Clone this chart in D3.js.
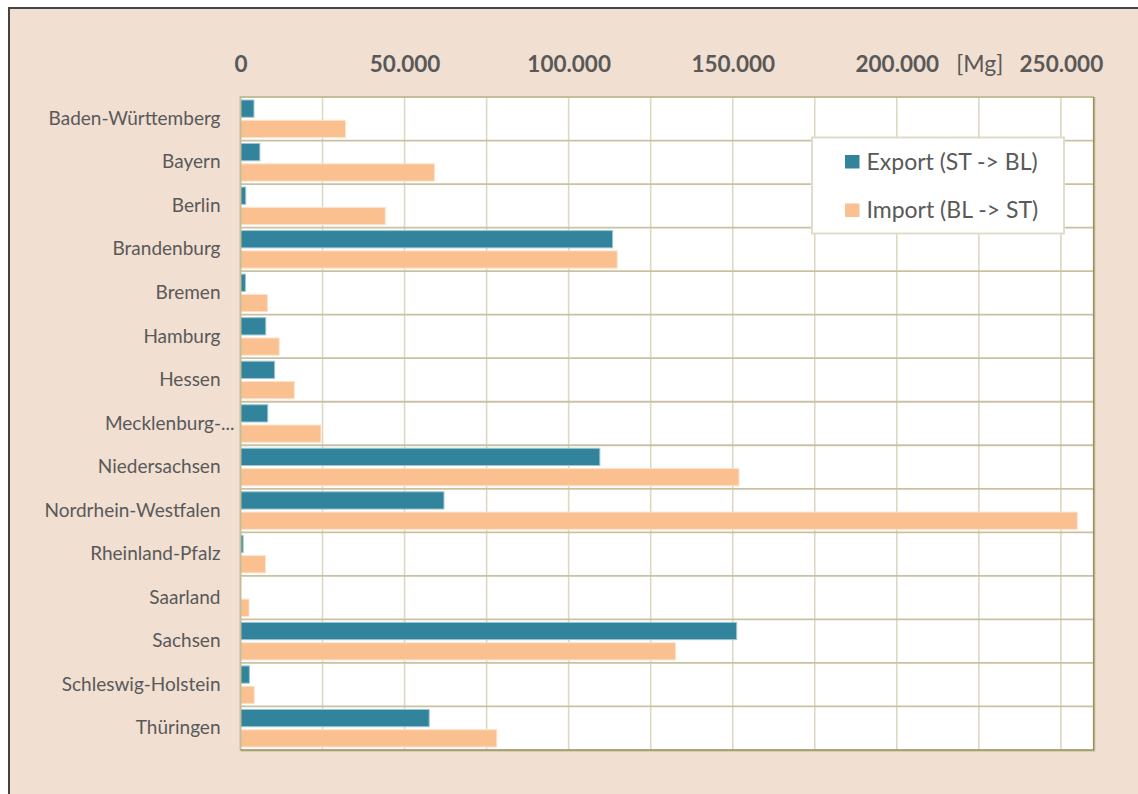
<!DOCTYPE html>
<html>
<head>
<meta charset="utf-8">
<script src="https://cdn.jsdelivr.net/npm/d3@7"></script>
<style>
  html, body { margin: 0; padding: 0; background: #ffffff; }
  svg { display: block; }
  text { font-family: Lato, "Open Sans", sans-serif; fill: #595959; }
</style>
</head>
<body>
<svg id="chart" width="1138" height="794"></svg>
<script>
// Abfallströme zwischen Sachsen-Anhalt (ST) und den Bundesländern (BL), in Mg
const categories = [
  "Baden-Württemberg", "Bayern", "Berlin", "Brandenburg", "Bremen", "Hamburg",
  "Hessen", "Mecklenburg-Vorpommern", "Niedersachsen", "Nordrhein-Westfalen",
  "Rheinland-Pfalz", "Saarland", "Sachsen", "Schleswig-Holstein", "Thüringen"
];
const exportValues = [
  4100, 5900, 1600, 113400, 1500, 7700,
  10400, 8300, 109500, 62000,
  800, 0, 151200, 2700, 57500
];
const importValues = [
  32000, 59100, 44100, 114800, 8200, 11800,
  16400, 24500, 151900, 255000,
  7600, 2600, 132600, 4200, 78100
];
const seriesNames = ["Export (ST -> BL)", "Import (BL -> ST)"];
const tickValues = [0, 50000, 100000, 150000, 200000, 250000];
const gridValues = [25000, 50000, 75000, 100000, 125000, 150000, 175000, 200000, 225000, 250000];
const unitLabel = "[Mg]";
const unitPosition = 225000;
const xMax = 260000;

const colors = { "Export (ST -> BL)": "#31849b", "Import (BL -> ST)": "#fac090" };

const de = d3.formatLocale({ decimal: ",", thousands: ".", grouping: [3], currency: ["", " €"] });
const fmt = de.format(",d");

const svg = d3.select("#chart");

// chart frame
svg.append("rect")
  .attr("x", 9).attr("y", 8).attr("width", 1140).attr("height", 800)
  .attr("fill", "#f1dfd2").attr("stroke", "#444444").attr("stroke-width", 2);

const plot = { left: 240.5, right: 1093.7, top: 97, bottom: 750 };

const x = d3.scaleLinear().domain([0, xMax]).range([plot.left, plot.right]);
const y = d3.scaleBand().domain(categories).range([plot.top, plot.bottom]).paddingInner(0).paddingOuter(0);
const bandH = y.bandwidth();
const inner = d3.scaleBand().domain(seriesNames).range([3, bandH - 3]).paddingInner(0.15).paddingOuter(0);

// plot background
svg.append("rect")
  .attr("x", plot.left).attr("y", plot.top)
  .attr("width", plot.right - plot.left).attr("height", plot.bottom - plot.top)
  .attr("fill", "#ffffff");

// vertical gridlines
svg.append("g").selectAll("line").data(gridValues).join("line")
  .attr("x1", d => x(d)).attr("x2", d => x(d))
  .attr("y1", plot.top).attr("y2", plot.bottom)
  .attr("stroke", "#ddd8c2").attr("stroke-width", 1.6);

// horizontal category separators
svg.append("g").selectAll("line").data(categories.slice(1)).join("line")
  .attr("x1", plot.left).attr("x2", plot.right)
  .attr("y1", d => y(d)).attr("y2", d => y(d))
  .attr("stroke", "#c9c2a2").attr("stroke-width", 1.8);

// bars
const rows = categories.map((c, i) => ({ cat: c, vals: [
  { s: seriesNames[0], v: exportValues[i] },
  { s: seriesNames[1], v: importValues[i] }
]}));

const barStroke = { "Export (ST -> BL)": "#9cc6d2", "Import (BL -> ST)": "#fde2cc" };

svg.append("g").selectAll("g").data(rows).join("g")
  .attr("transform", d => `translate(0,${y(d.cat)})`)
  .selectAll("rect").data(d => d.vals.filter(e => e.v > 0)).join("rect")
  .attr("x", x(0))
  .attr("y", d => inner(d.s))
  .attr("width", d => x(d.v) - x(0))
  .attr("height", inner.bandwidth())
  .attr("fill", d => colors[d.s])
  .attr("stroke", d => barStroke[d.s])
  .attr("stroke-width", 1);

// plot border: light on top/left, darker on right/bottom
svg.append("path")
  .attr("d", `M${plot.left},${plot.bottom} V${plot.top} H${plot.right}`)
  .attr("fill", "none").attr("stroke", "#c4bd97").attr("stroke-width", 2);
svg.append("path")
  .attr("d", `M${plot.right + 0.8},${plot.top} V${plot.bottom + 0.8} H${plot.left}`)
  .attr("fill", "none").attr("stroke", "#d6cfb0").attr("stroke-width", 2.2);
svg.append("path")
  .attr("d", `M${plot.right},${plot.top} V${plot.bottom} H${plot.left}`)
  .attr("fill", "none").attr("stroke", "#988f5c").attr("stroke-width", 1.6);

// value axis on top
const xAxis = d3.axisTop(x).tickValues(tickValues).tickFormat(fmt).tickSize(0).tickPadding(0);
const gx = svg.append("g").attr("transform", "translate(0,72)").call(xAxis);
gx.select(".domain").remove();
gx.selectAll("text")
  .attr("dy", 0)
  .style("font-family", "Lato, 'Open Sans', sans-serif")
  .style("font-size", "22.5px").style("font-weight", "bold").style("fill", "#595959");

svg.append("text")
  .attr("x", x(unitPosition) + 1).attr("y", 72)
  .attr("text-anchor", "middle")
  .style("font-size", "23px")
  .text(unitLabel);

// category axis
const shortName = d => d.length > 20 ? d.slice(0, 12) + "..." : d;
const yAxis = d3.axisLeft(y).tickFormat(shortName).tickSize(0).tickPadding(20);
const gy = svg.append("g").attr("transform", `translate(${plot.left},0)`).call(yAxis);
gy.select(".domain").remove();
gy.selectAll("text")
  .style("font-family", "Lato, 'Open Sans', sans-serif")
  .style("font-size", "19px").style("fill", "#595959")
  .attr("dx", d => d.length > 20 ? 14 : 0);

// legend
const legend = svg.append("g").attr("transform", "translate(812,137.5)");
legend.append("rect")
  .attr("width", 252).attr("height", 96)
  .attr("fill", "#ffffff").attr("stroke", "#e0dccb").attr("stroke-width", 2);
const items = legend.selectAll("g.item").data(seriesNames).join("g")
  .attr("class", "item")
  .attr("transform", (d, i) => `translate(33,${17.5 + i * 48.5})`);
items.append("rect")
  .attr("width", 14.5).attr("height", 13.5)
  .attr("fill", d => colors[d]);
items.append("text")
  .attr("x", 21.5).attr("y", 14.5)
  .style("font-size", "23px")
  .text(d => d);
</script>
</body>
</html>
